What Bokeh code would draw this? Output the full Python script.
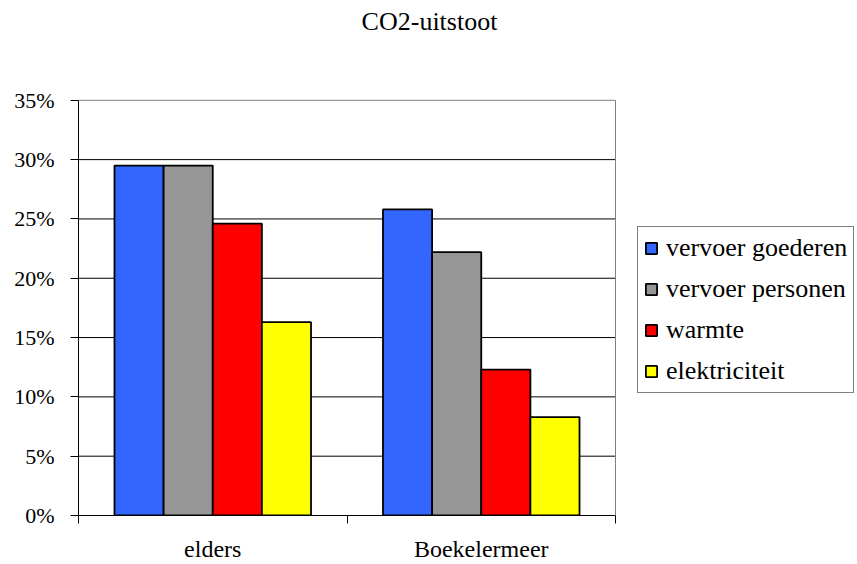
from bokeh.plotting import figure
from bokeh.models import (ColumnDataSource, FixedTicker, NumeralTickFormatter,
                          Legend, LegendItem, Label, Range1d)
from bokeh.embed import file_html
from bokeh.resources import INLINE

categories = ["elders", "Boekelermeer"]
series_names = ["vervoer goederen", "vervoer personen", "warmte", "elektriciteit"]
vervoer_goederen = [0.295, 0.258]
vervoer_personen = [0.295, 0.222]
warmte = [0.246, 0.123]
elektriciteit = [0.163, 0.083]
colors = ["#3366FF", "#969696", "#FF0000", "#FFFF00"]
y_ticks = [0, 0.05, 0.10, 0.15, 0.20, 0.25, 0.30, 0.35]
y_max = 0.35

FONT = "'Liberation Serif', 'Times New Roman', serif"

# layout (pixels)
W, H = 857, 564
left, right, top, bottom = 78, 615, 100, 516
ncat = len(categories)
x_end = ncat * (W - left) / (right - left)
y_end = y_max * bottom / (bottom - top)

p = figure(width=W, height=H, output_backend="svg", toolbar_location=None,
           x_range=Range1d(0, x_end), y_range=Range1d(0, y_end),
           min_border_left=left, min_border_right=0, min_border_top=0,
           min_border_bottom=H - bottom)
p.title = None
p.outline_line_color = None
p.background_fill_color = "white"
p.border_fill_color = "white"
p.xgrid.grid_line_color = None
p.ygrid.grid_line_color = None

# gridlines within plot area
grid_src = ColumnDataSource(dict(y=y_ticks[1:-1], x0=[0] * (len(y_ticks) - 2),
                                 x1=[ncat] * (len(y_ticks) - 2)))
p.segment(x0="x0", y0="y", x1="x1", y1="y", source=grid_src, line_color="black", line_width=1)
# plot-area border (top and right)
p.segment(x0=[0, ncat], y0=[y_max, 0], x1=[ncat, ncat], y1=[y_max, y_max],
          line_color="#808080", line_width=1)

bar_w = 0.183
all_series = [vervoer_goederen, vervoer_personen, warmte, elektriciteit]
items = []
for k, (name, vals, col) in enumerate(zip(series_names, all_series, colors)):
    off = (k - 1.5) * bar_w
    src = ColumnDataSource(dict(x=[i + 0.5 + off for i in range(ncat)], top=vals))
    r = p.vbar(x="x", top="top", width=bar_w, source=src, fill_color=col,
               line_color="black", line_width=1.8)
    items.append(LegendItem(label=name, renderers=[r]))

# axes
p.xaxis.bounds = (0, ncat)
p.xaxis.ticker = FixedTicker(ticks=[i + 0.5 for i in range(ncat)],
                             minor_ticks=list(range(ncat + 1)))
p.xaxis.major_label_overrides = {i + 0.5: c for i, c in enumerate(categories)}
p.xaxis.major_tick_out = 0
p.xaxis.major_tick_in = 0
p.xaxis.minor_tick_out = 8
p.xaxis.minor_tick_in = 0
p.xaxis.minor_tick_line_color = "black"
p.xaxis.axis_line_color = "black"
p.xaxis.major_label_text_font = FONT
p.xaxis.major_label_text_font_size = "24px"
p.xaxis.major_label_text_color = "black"
p.xaxis.major_label_standoff = 12

p.yaxis.bounds = (0, y_max)
p.yaxis.ticker = FixedTicker(ticks=y_ticks)
p.yaxis.formatter = NumeralTickFormatter(format="0%")
p.yaxis.major_tick_out = 8
p.yaxis.major_tick_in = 0
p.yaxis.minor_tick_line_color = None
p.yaxis.axis_line_color = "black"
p.yaxis.major_tick_line_color = "black"
p.yaxis.major_label_text_font = FONT
p.yaxis.major_label_text_font_size = "22px"
p.yaxis.major_label_text_color = "black"
p.yaxis.major_label_standoff = 16

legend = Legend(items=items, location=(637 - left, bottom - 394),
                label_text_font=FONT, label_text_font_size="26px",
                label_text_color="black",
                glyph_width=14, glyph_height=14, label_height=24,
                label_standoff=8, spacing=11, padding=6, margin=0,
                border_line_color="black", border_line_width=1,
                background_fill_alpha=1)
p.add_layout(legend, "center")

title = Label(x=429 - left, y=bottom - 22, x_units="screen", y_units="screen",
              text="CO2-uitstoot", text_font=FONT, text_font_size="26px",
              text_align="center", text_baseline="middle", text_color="black")
p.add_layout(title)

open("out.html", "w").write(file_html(p, INLINE))
